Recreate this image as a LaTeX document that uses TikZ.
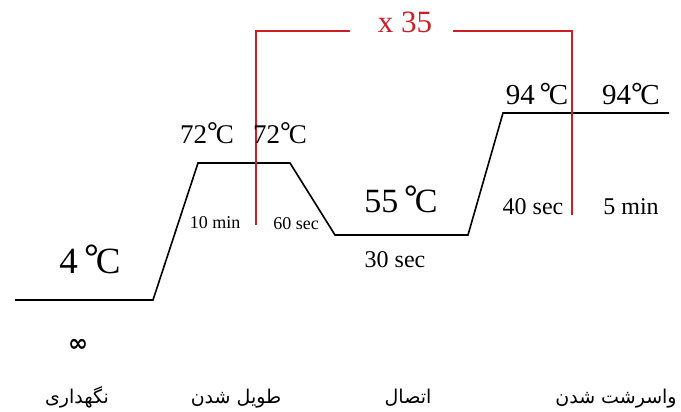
\documentclass[tikz,border=0pt]{standalone}
\usepackage{fontspec}
\setmainfont{Liberation Serif}
\newfontfamily\arabicfont[Script=Arabic]{DejaVu Sans}
\newfontfamily\symfont{DejaVu Sans}
\TeXXeTstate=1
\definecolor{pcrred}{RGB}{205,30,40}
\newcommand{\degc}{\raisebox{0.1em}{\bfseries°}\kern-0.08em C}
\begin{document}
\begin{tikzpicture}[x=1pt,y=-1pt,
  profile/.style={line width=1.6pt,black,line join=miter},
  bracket/.style={line width=1.4pt,pcrred},
  lbl/.style={inner sep=0pt,anchor=base,text=black},
  fa/.style={inner sep=0pt,anchor=base,font=\arabicfont\fontsize{19}{22}\selectfont}]
\useasboundingbox (0,0) rectangle (681,412);
% profile vertices
\coordinate (p0) at (15,300);
\coordinate (p1) at (153,300);
\coordinate (p2) at (198,163);
\coordinate (p3) at (290,163);
\coordinate (p4) at (335,235);
\coordinate (p5) at (468,235);
\coordinate (p6) at (503,113);
\coordinate (p7) at (669,113);
\draw[profile] (p0) -- (p1) -- (p2) -- (p3) -- (p4) -- (p5) -- (p6) -- (p7);
% cycle bracket
\node[lbl,text=pcrred,font=\fontsize{31}{34}\selectfont] (cyc) at (405,33) {x 35};
\coordinate (bl0) at (256,225);
\coordinate (bl1) at (256,31);
\coordinate (bl2) at (350,31);
\coordinate (br0) at (453,31);
\coordinate (br1) at (572,31);
\coordinate (br2) at (572,215);
\draw[bracket] (bl0) -- (bl1) -- (bl2);
\draw[bracket] (br0) -- (br1) -- (br2);
% temperatures
\node[lbl,font=\fontsize{37}{40}\selectfont] (t4) at (90,273) {4\,\degc};
\node[lbl,font=\fontsize{27}{30}\selectfont] (t72a) at (207,143) {72\degc};
\node[lbl,font=\fontsize{27}{30}\selectfont] (t72b) at (280,143) {72\degc};
\node[lbl,font=\fontsize{34}{37}\selectfont] (t55) at (401,212) {55\,\degc};
\node[lbl,font=\fontsize{29}{32}\selectfont] (t94a) at (537,105) {94\,\degc};
\node[lbl,font=\fontsize{29}{32}\selectfont] (t94b) at (631,105) {94\degc};
% times
\node[lbl,font=\fontsize{18}{20}\selectfont] (d10) at (215,228) {10 min};
\node[lbl,font=\fontsize{18}{20}\selectfont] (d60) at (296,229) {60 sec};
\node[lbl,font=\fontsize{24}{27}\selectfont] (d30) at (395,267) {30 sec};
\node[lbl,font=\fontsize{24}{27}\selectfont] (d40) at (533,214) {40 sec};
\node[lbl,font=\fontsize{24}{27}\selectfont] (d5) at (631,214) {5 min};
\node[inner sep=0pt,font=\symfont\bfseries\fontsize{24}{26}\selectfont] (inf) at (78,345) {∞};
% step names
\node[fa] (s1) at (77,403) {\beginR نگهداری\endR};
\node[fa] (s2) at (236,403) {\beginR طویل شدن\endR};
\node[fa] (s3) at (408,403) {\beginR اتصال\endR};
\node[fa] (s4) at (616,403) {\beginR واسرشت شدن\endR};
\end{tikzpicture}
\end{document}
